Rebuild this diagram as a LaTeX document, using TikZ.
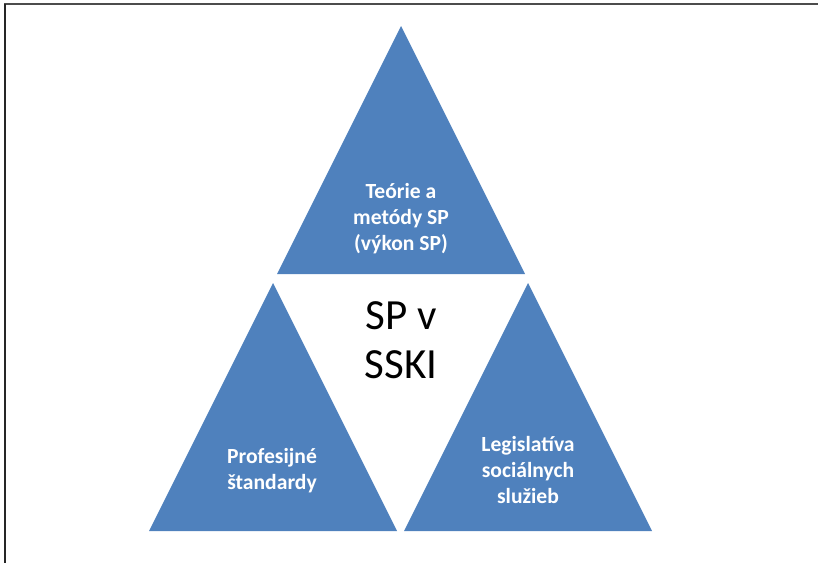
\documentclass[tikz,border=0pt]{standalone}
\usepackage{fontspec}
\setmainfont{Carlito}
\definecolor{triblue}{HTML}{4F81BD}

\begin{document}
\begin{tikzpicture}[x=1pt,y=-1pt]
  \tikzstyle{tri}=[fill=triblue]
  \tikzstyle{trilabel}=[text=white,font=\bfseries\fontsize{21.6}{26}\selectfont,align=center,inner sep=0pt]
  \tikzstyle{centerlabel}=[text=black,font=\fontsize{43}{49}\selectfont,align=center,inner sep=0pt]
  \useasboundingbox (0,0) rectangle (818,563);
  % frame
  \draw[line width=2pt,black!70] (4,4) -- (818,4);
  \draw[line width=2pt,black!85] (5,4) -- (5,563);
  % triangles
  \fill[tri] (401,26) -- (525,274) -- (277,274) -- cycle;
  \fill[tri] (273,283) -- (397,531) -- (149,531) -- cycle;
  \fill[tri] (528,283) -- (652,531) -- (404,531) -- cycle;
  % labels
  \node[trilabel] (theory) at (401,219) {Teórie a\\metódy SP\\(výkon SP)};
  \node[trilabel] (standards) at (272,471) {Profesijné\\štandardy};
  \node[trilabel] (legislation) at (528,470) {Legislatíva\\sociálnych\\služieb};
  \node[centerlabel] (center) at (401,340) {SP v\\SSKI};
\end{tikzpicture}
\end{document}
